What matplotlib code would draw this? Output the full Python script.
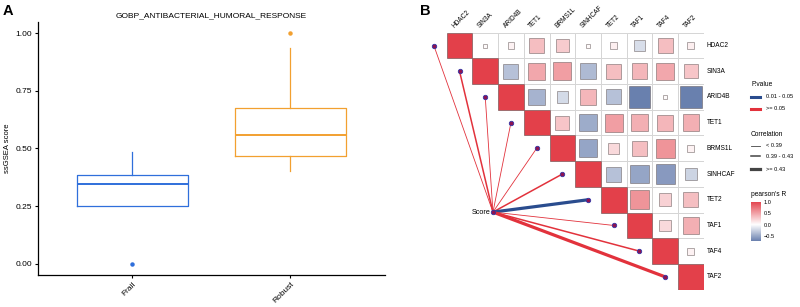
import numpy as np
import matplotlib
matplotlib.use('Agg')
import matplotlib.pyplot as plt
from matplotlib.patches import Rectangle
from matplotlib.lines import Line2D
from matplotlib.colors import LinearSegmentedColormap, Normalize

plt.rcParams['font.family'] = ['Liberation Sans', 'DejaVu Sans']

# ---------------- Panel A data ----------------
groups = ['Frail', 'Robust']
box_q1 = [0.25, 0.467]
box_med = [0.345, 0.557]
box_q3 = [0.387, 0.674]
whisk_lo = [0.25, 0.403]
whisk_hi = [0.485, 0.936]
outliers = [[0.0], [1.0]]
group_colors = ['#2F6FDB', '#F2A030']
title_a = 'GOBP_ANTIBACTERIAL_HUMORAL_RESPONSE'
ylabel_a = 'ssGSEA score'
yticks_a = [0.0, 0.25, 0.50, 0.75, 1.00]

# ---------------- Panel B data ----------------
genes = ['HDAC2', 'SIN3A', 'ARID4B', 'TET1', 'BRMS1L', 'SINHCAF', 'TET2', 'TAF1', 'TAF4', 'TAF2']
corr_upper = [
    [0.025, 0.07, 0.34, 0.27, 0.025, 0.08, -0.18, 0.34, 0.08],
    [-0.34, 0.46, 0.50, -0.38, 0.34, 0.38, 0.46, 0.30],
    [-0.42, -0.20, 0.38, -0.34, -0.70, 0.02, -0.70],
    [0.30, -0.46, 0.50, 0.42, 0.38, 0.42],
    [-0.50, 0.20, 0.34, 0.56, 0.07],
    [-0.34, -0.50, -0.56, -0.24],
    [0.56, 0.24, 0.34],
    [0.20, 0.42],
    [0.07],
]
score_r = [0.30, 0.41, 0.25, 0.28, 0.30, 0.41, 0.50, 0.30, 0.41, 0.50]
score_p = ['>= 0.05', '>= 0.05', '>= 0.05', '>= 0.05', '>= 0.05',
           '>= 0.05', '0.01 - 0.05', '>= 0.05', '>= 0.05', '>= 0.05']
p_levels = ['0.01 - 0.05', '>= 0.05']
p_colors = {'0.01 - 0.05': '#2A4C8E', '>= 0.05': '#E2323C'}
r_levels = ['< 0.39', '0.39 - 0.43', '>= 0.43']
r_breaks = [0.39, 0.43]
r_widths = [0.6, 1.1, 2.3]
cbar_ticks = [1.0, 0.5, 0.0, -0.5]

W, H = 800, 307
fig = plt.figure(figsize=(W / 100, H / 100), dpi=100)

def fx(px):
    return px / W

def fy(py):
    return 1 - py / H

# ---------------- Panel A ----------------
axA = fig.add_axes([fx(37.7), fy(275.3), fx(385) - fx(37.7), fy(21.7) - fy(275.3)])
stats = []
for i, g in enumerate(groups):
    stats.append(dict(med=box_med[i], q1=box_q1[i], q3=box_q3[i],
                      whislo=whisk_lo[i], whishi=whisk_hi[i], fliers=outliers[i], label=g))
for i, s in enumerate(stats):
    c = group_colors[i]
    axA.bxp([s], positions=[i + 1], widths=0.7, showcaps=False, patch_artist=False,
            boxprops=dict(color=c, linewidth=0.9),
            whiskerprops=dict(color=c, linewidth=0.9),
            medianprops=dict(color=c, linewidth=1.4),
            flierprops=dict(marker='o', markerfacecolor=c, markeredgecolor=c, markersize=2.2))
axA.set_xlim(0.4, 2.6)
axA.set_ylim(-0.05, 1.05)
axA.set_yticks(yticks_a)
axA.set_yticklabels(['%.2f' % v for v in yticks_a], fontsize=6)
axA.set_xticks([1, 2])
axA.set_xticklabels(groups, fontsize=6, rotation=45, ha='right', va='top', rotation_mode='anchor')
for sp in ['top', 'right']:
    axA.spines[sp].set_visible(False)
for sp in ['left', 'bottom']:
    axA.spines[sp].set_linewidth(0.9)
axA.tick_params(length=2.5, width=0.8, pad=1.5, colors='black')
axA.set_title(title_a, fontsize=6, pad=3)
axA.set_ylabel(ylabel_a, fontsize=5.5, labelpad=3)

fig.text(fx(3), fy(4), 'A', fontsize=10.5, fontweight='bold', ha='left', va='top')
fig.text(fx(420), fy(4), 'B', fontsize=10.5, fontweight='bold', ha='left', va='top')

# ---------------- Panel B ----------------
n = len(genes)
left, top, cell = 446.7, 32.7, 25.7
axB = fig.add_axes([fx(left), fy(top + n * cell), fx(left + n * cell) - fx(left), fy(top) - fy(top + n * cell)])
axB.set_xlim(-0.5, n - 0.5)
axB.set_ylim(n - 0.5, -0.5)
axB.axis('off')

cmap = LinearSegmentedColormap.from_list('rb', ['#2A4A8C', '#FFFFFF', '#E3404A'])
norm = Normalize(-1, 1)

M = np.eye(n)
for i, row in enumerate(corr_upper):
    for k, v in enumerate(row):
        M[i, i + 1 + k] = v

for i in range(n):
    for j in range(i, n):
        axB.add_patch(Rectangle((j - 0.5, i - 0.5), 1, 1, facecolor='white',
                                edgecolor='#D5D5D5', linewidth=0.7, zorder=1))
for i in range(n):
    for j in range(i, n):
        v = M[i, j]
        s = np.sqrt(abs(v))
        axB.add_patch(Rectangle((j - s / 2, i - s / 2), s, s, facecolor=cmap(norm(v)),
                                edgecolor=(0.35, 0.3, 0.3, 0.55), linewidth=0.6, zorder=2))

# links
score_xy = (1.3, 6.48)
for i, g in enumerate(genes):
    k = np.searchsorted(r_breaks, abs(score_r[i]), side='right')
    axB.plot([score_xy[0], i - 1], [score_xy[1], i], color=p_colors[score_p[i]],
             linewidth=r_widths[k], solid_capstyle='butt', clip_on=False, zorder=3)
for i, g in enumerate(genes):
    axB.plot([i - 1], [i], marker='o', markersize=3.2, markerfacecolor='#8E1250',
             markeredgecolor='#3535A5', markeredgewidth=0.6, clip_on=False, zorder=4)
axB.plot([score_xy[0]], [score_xy[1]], marker='o', markersize=3.2, markerfacecolor='#8E1250',
         markeredgecolor='#3535A5', markeredgewidth=0.6, clip_on=False, zorder=4)
axB.text(score_xy[0] - 0.08, score_xy[1], 'Score', fontsize=5.2, ha='right', va='center')

for j, g in enumerate(genes):
    axB.text(j - 0.15, -0.62, g, fontsize=4.7, rotation=45, ha='left', va='bottom',
             rotation_mode='anchor', clip_on=False)
    axB.text(n - 0.5 + 0.12, j, g, fontsize=4.7, ha='left', va='center', clip_on=False)

# ---------------- Legends ----------------
lx, tx = 751, 766
fig.text(fx(lx), fy(84.3), 'P.value', fontsize=4.8, ha='left', va='center')
for yy, lev in zip([97, 108.7], p_levels):
    fig.add_artist(Line2D([fx(lx), fx(lx + 9)], [fy(yy), fy(yy)], color=p_colors[lev], linewidth=2.2))
    fig.text(fx(tx), fy(yy), lev, fontsize=4.1, ha='left', va='center')
fig.text(fx(lx), fy(134.3), 'Correlation', fontsize=4.8, ha='left', va='center')
for yy, lev, lw in zip([145.7, 156, 169.3], r_levels, r_widths):
    fig.add_artist(Line2D([fx(lx), fx(lx + 9)], [fy(yy), fy(yy)], color='#444444', linewidth=lw))
    fig.text(fx(tx), fy(yy), lev, fontsize=4.1, ha='left', va='center')
fig.text(fx(lx), fy(195), "pearson's R", fontsize=4.8, ha='left', va='center')
vmin, vmax = M.min(), M.max()
cax = fig.add_axes([fx(751), fy(241), fx(761) - fx(751), fy(201.7) - fy(241)])
grad = np.linspace(vmin, vmax, 256).reshape(-1, 1)
cax.imshow(grad, aspect='auto', cmap=cmap, norm=norm, origin='lower', extent=[0, 1, vmin, vmax])
cax.set_xticks([])
cax.yaxis.tick_right()
cax.set_yticks(cbar_ticks)
cax.set_yticklabels(['\u2212%.1f' % abs(t) if t < 0 else '%.1f' % t for t in cbar_ticks], fontsize=4.1)
cax.tick_params(axis='y', length=0, pad=2)
for sp in cax.spines.values():
    sp.set_visible(False)

fig.savefig('out.png', dpi=100)
